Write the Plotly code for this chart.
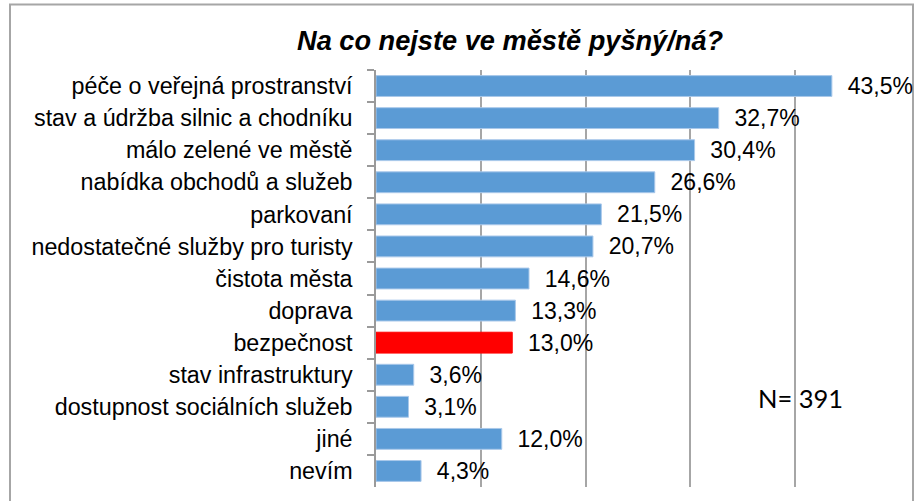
import plotly.graph_objects as go

categories = [
    "péče o veřejná prostranství",
    "stav a údržba silnic a chodníku",
    "málo zelené ve městě",
    "nabídka obchodů a služeb",
    "parkovaní",
    "nedostatečné služby pro turisty",
    "čistota města",
    "doprava",
    "bezpečnost",
    "stav infrastruktury",
    "dostupnost sociálních služeb",
    "jiné",
    "nevím",
]
values = [43.5, 32.7, 30.4, 26.6, 21.5, 20.7, 14.6, 13.3, 13.0, 3.6, 3.1, 12.0, 4.3]
highlight = "bezpečnost"
title_text = "Na co nejste ve městě pyšný/ná?"
n_text = "N= 391"

BLUE = "#5B9BD5"
RED = "#FF0000"
colors = [RED if c == highlight else BLUE for c in categories]
line_colors = [RED if c == highlight else "#A9C8EA" for c in categories]

W, H = 917, 501
L, R, T, B = 376, 17, 70, 14
pw, ph = W - L - R, H - T - B

def px(x):
    return (x - L) / pw

def py(y):
    return (H - B - y) / ph

fig = go.Figure()
fig.add_trace(go.Bar(
    y=categories,
    x=values,
    orientation="h",
    marker=dict(color=colors, line=dict(color=line_colors, width=1)),
    texttemplate="\u00a0\u00a0%{x:.1f}%",
    textposition="outside",
    constraintext="none",
    cliponaxis=False,
    textfont=dict(family="Liberation Sans, Arial", size=23, color="#000000"),
    hoverinfo="skip",
))

fig.update_layout(
    width=W, height=H,
    margin=dict(l=L, r=R, t=T, b=B),
    paper_bgcolor="white",
    plot_bgcolor="white",
    separators=", ",
    showlegend=False,
    bargap=0.35,
    font=dict(family="Liberation Sans, Arial", size=23, color="#000000"),
    xaxis=dict(
        range=[0, 50], dtick=10, showgrid=True, gridcolor="#A6A6A6", gridwidth=1.5,
        showticklabels=False, zeroline=False, showline=False, ticks="",
    ),
    yaxis=dict(
        autorange="reversed", showline=True, linecolor="#9A9A9A", linewidth=1.5,
        ticks="outside", tickson="boundaries", ticklen=7, tickcolor="#9A9A9A", tickwidth=1.5,
        ticklabelstandoff=17,
        tickfont=dict(family="Liberation Sans, Arial", size=23.3, color="#000000"),
        showgrid=False,
    ),
    shapes=[dict(
        type="rect", xref="paper", yref="paper",
        x0=px(10), x1=px(913), y0=py(520), y1=py(4.5),
        line=dict(color="#A6A6A6", width=2), fillcolor="rgba(0,0,0,0)", layer="below",
    )],
    annotations=[
        dict(text="<b><i>" + title_text + "</i></b>", xref="paper", yref="paper",
             x=px(510), y=py(40), xanchor="center", yanchor="middle", showarrow=False,
             font=dict(family="Liberation Sans, Arial", size=27.2, color="#000000")),
        dict(text=n_text, xref="paper", yref="paper",
             x=px(800), y=py(398), xanchor="center", yanchor="middle", showarrow=False,
             font=dict(family="Lato, Carlito, Calibri", size=25.5, color="#000000")),
    ],
)

fig.write_html("out.html", config={"displayModeBar": False},
               post_script="document.body.style.margin='0';")
